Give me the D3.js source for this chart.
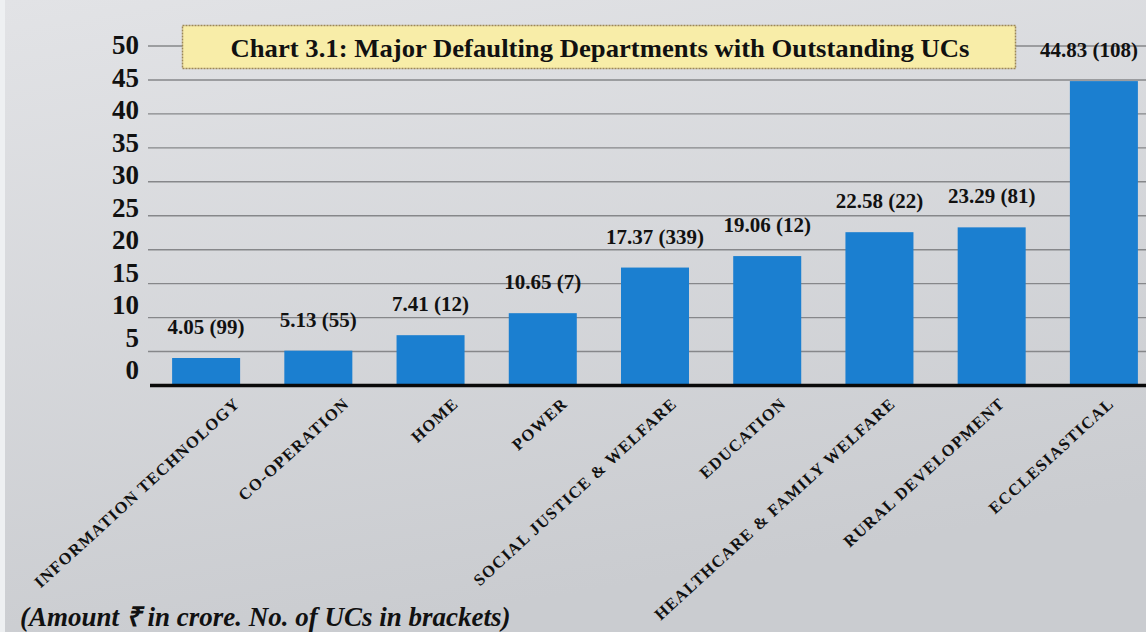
<!DOCTYPE html>
<meta charset="utf-8">
<head>
	<script type="text/javascript" src="https://cdn.jsdelivr.net/npm/d3@7"></script>
	<style>
		body { margin: 0; }
		svg { display: block; }
		text { font-family: "Liberation Serif", "Times New Roman", serif; font-weight: bold; fill: #111; }
	</style>
</head>
<body>
	<svg id="chart" width="1146" height="632"></svg>
</body>
<script type="text/javascript">
	// data
	var departments = ["INFORMATION TECHNOLOGY", "CO-OPERATION", "HOME", "POWER", "SOCIAL JUSTICE & WELFARE",
		"EDUCATION", "HEALTHCARE & FAMILY WELFARE", "RURAL DEVELOPMENT", "ECCLESIASTICAL"];
	var amounts = [4.05, 5.13, 7.41, 10.65, 17.37, 19.06, 22.58, 23.29, 44.83];
	var ucCounts = [99, 55, 12, 7, 339, 12, 22, 81, 108];
	var yTicks = [0, 5, 10, 15, 20, 25, 30, 35, 40, 45, 50];

	var svg = d3.select('#chart');
	var W = 1146, H = 632;

	// background
	var defs = svg.append('defs');
	var bg = defs.append('linearGradient').attr('id', 'bg').attr('x1', 0).attr('y1', 0).attr('x2', 0.3).attr('y2', 1);
	bg.append('stop').attr('offset', '0%').attr('stop-color', '#e2e3e6');
	bg.append('stop').attr('offset', '100%').attr('stop-color', '#caccd0');
	svg.append('rect').attr('width', W).attr('height', H).attr('fill', 'url(#bg)');
	svg.append('rect').attr('width', 5).attr('height', H).attr('fill', '#eef0f2');

	var x = d3.scaleBand().domain(departments).range([150, 1160]).paddingInner(0.394).paddingOuter(0.197);
	var y = d3.scaleLinear().domain([0, 50]).range([385.5, 46]);
	// tick labels sit a little above their gridlines, more so near the bottom
	var yLab = d3.scaleLinear().domain([0, 50]).range([370, 45]);
	// rotated category labels end points are spaced a bit tighter than the bars
	var xLab = d3.scalePoint().domain(departments).range([241, 1115]);

	// gridlines
	svg.append('g').selectAll('line').data(yTicks.filter(function(d){ return d > 0; }))
		.enter().append('line')
		.attr('x1', 148).attr('x2', W)
		.attr('y1', function(d){ return y(d); }).attr('y2', function(d){ return y(d); })
		.attr('stroke', '#86878a').attr('stroke-width', 1.4);

	// y labels
	svg.append('g').selectAll('text').data(yTicks)
		.enter().append('text')
		.attr('x', 139).attr('y', function(d){ return yLab(d); })
		.attr('text-anchor', 'end').attr('dominant-baseline', 'central')
		.style('font-size', '27px')
		.text(function(d){ return d; });

	// bars
	svg.append('g').selectAll('rect').data(amounts)
		.enter().append('rect')
		.attr('x', function(d, i){ return x(departments[i]); })
		.attr('width', x.bandwidth())
		.attr('y', function(d){ return y(d); })
		.attr('height', function(d){ return y(0) - y(d); })
		.attr('fill', '#1b7fd0');

	// axis line
	svg.append('line').attr('x1', 150).attr('x2', W).attr('y1', y(0)).attr('y2', y(0))
		.attr('stroke', '#0a0a0a').attr('stroke-width', 3.5);

	// value labels, kept inside the right edge
	svg.append('g').selectAll('text').data(amounts)
		.enter().append('text')
		.attr('y', function(d){ return y(d) - 24; })
		.attr('text-anchor', 'middle')
		.style('font-size', '21px')
		.text(function(d, i){ return d.toFixed(2) + ' (' + ucCounts[i] + ')'; })
		.attr('x', function(d, i){
			var cx = x(departments[i]) + x.bandwidth() / 2;
			var half = this.getComputedTextLength() / 2;
			return Math.min(cx, W - half - 8);
		});

	// category labels
	svg.append('g').selectAll('text').data(departments)
		.enter().append('text')
		.attr('transform', function(d){ return 'translate(' + xLab(d) + ',405) rotate(-42.5)'; })
		.attr('text-anchor', 'end')
		.style('font-size', '16.5px').style('letter-spacing', '1.2px')
		.text(function(d){ return d; });

	// title box
	svg.append('rect').attr('x', 182.5).attr('y', 25.5).attr('width', 833).attr('height', 43)
		.attr('fill', '#f8eda8').attr('stroke', '#9c8758').attr('stroke-width', 1.5).attr('stroke-dasharray', '2 1');
	svg.append('text').attr('x', 600).attr('y', 57).attr('text-anchor', 'middle')
		.attr('textLength', 739).attr('lengthAdjust', 'spacingAndGlyphs')
		.style('font-size', '25px')
		.text('Chart 3.1: Major Defaulting Departments with Outstanding UCs');

	// note
	svg.append('text').attr('x', 20).attr('y', 626)
		.style('font-size', '27px').style('font-style', 'italic')
		.text('(Amount \u20B9 in crore. No. of UCs in brackets)');
</script>
